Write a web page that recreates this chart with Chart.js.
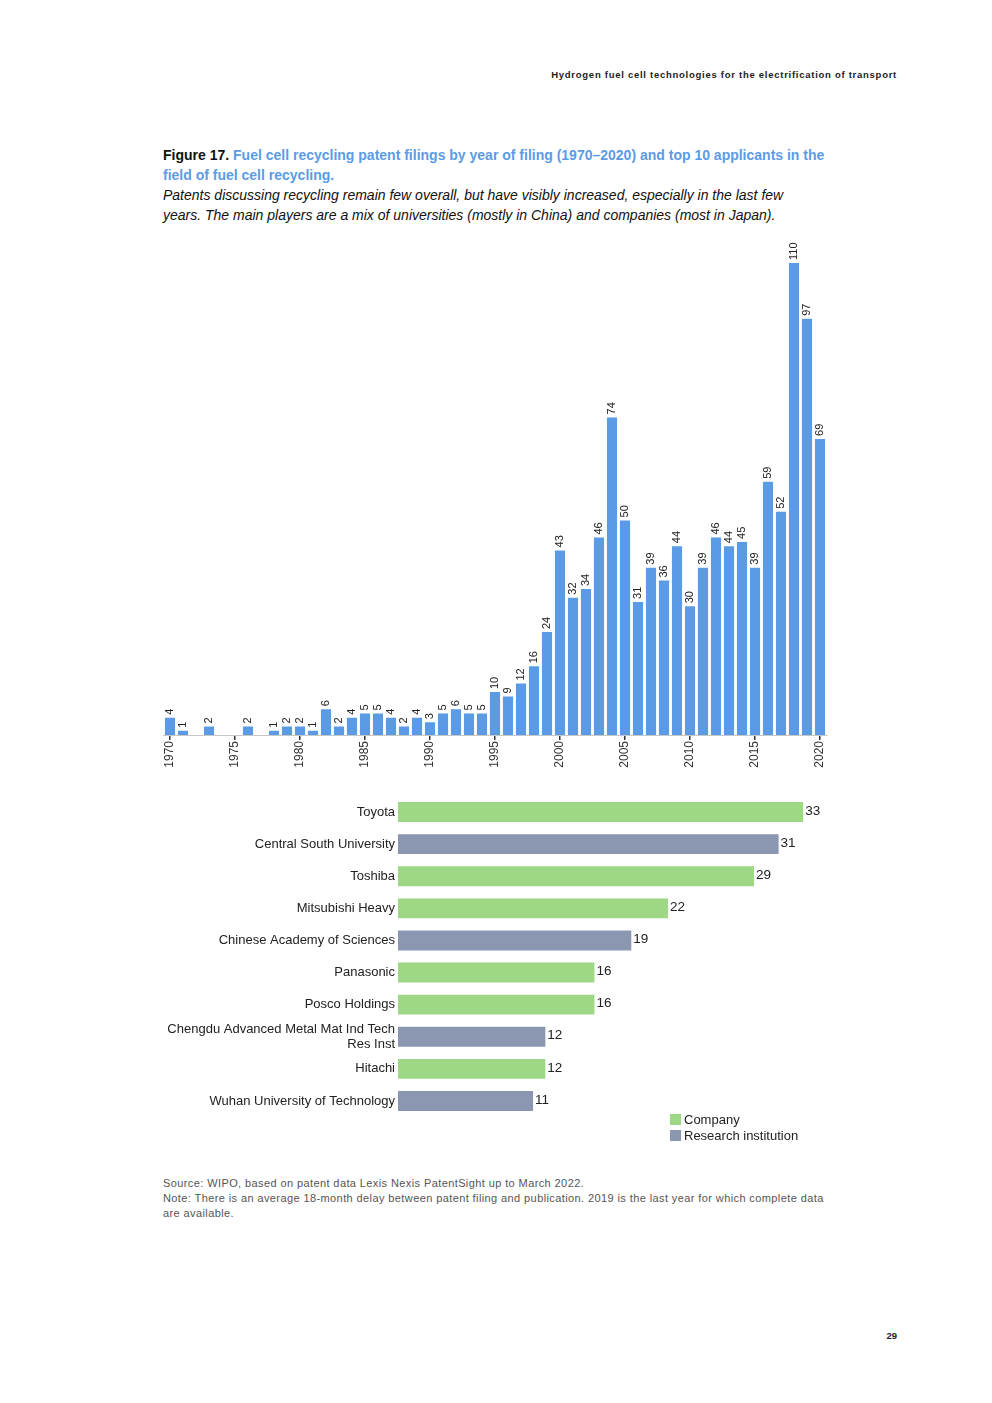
<!DOCTYPE html>
<html>
<head>
<meta charset="utf-8">
<script src="https://cdn.jsdelivr.net/npm/chart.js@4.4.1/dist/chart.umd.min.js"></script>
<style>
  html, body { margin: 0; padding: 0; background: #fff; }
  body { width: 992px; height: 1403px; position: relative; font-family: 'Liberation Sans', Arial, sans-serif; color: #111; }
  .abs { position: absolute; }
  #header { right: 95px; top: 69px; font-size: 9.5px; font-weight: bold; letter-spacing: 0.73px; color: #222; white-space: nowrap; }
  #title { left: 163px; top: 145px; font-size: 14px; font-weight: bold; line-height: 20px; white-space: nowrap; }
  #title .blue { color: #5b9be6; }
  #subtitle { left: 163px; top: 185px; font-size: 14px; font-style: italic; line-height: 20px; white-space: nowrap; color: #111; }
  #source { left: 163px; top: 1176px; font-size: 11px; line-height: 15px; letter-spacing: 0.4px; color: #555; white-space: nowrap; }
  #page { right: 95px; top: 1330px; font-size: 9.5px; font-weight: bold; color: #222; }
  #legend { left: 670px; top: 1112px; font-size: 13px; line-height: 15.5px; color: #222; }
  #legend .sw { display: inline-block; width: 11px; height: 11px; margin-right: 3px; vertical-align: -1px; }
  #c1wrap { left: 160px; top: 230px; width: 670px; height: 550px; }
  #c2wrap { left: 160px; top: 796px; width: 680px; height: 321px; }
</style>
</head>
<body>
<div id="header" class="abs">Hydrogen fuel cell technologies for the electrification of transport</div>
<div id="title" class="abs">Figure 17. <span class="blue">Fuel cell recycling patent filings by year of filing (1970–2020) and top 10 applicants in the<br>field of fuel cell recycling.</span></div>
<div id="subtitle" class="abs">Patents discussing recycling remain few overall, but have visibly increased, especially in the last few<br>years. The main players are a mix of universities (mostly in China) and companies (most in Japan).</div>
<div id="c1wrap" class="abs"><canvas id="c1"></canvas></div>
<div id="c2wrap" class="abs"><canvas id="c2"></canvas></div>
<div id="legend" class="abs">
  <div><span class="sw" style="background:#9ed886"></span>Company</div>
  <div><span class="sw" style="background:#8b96b1"></span>Research institution</div>
</div>
<div id="source" class="abs">Source: WIPO, based on patent data Lexis Nexis PatentSight up to March 2022.<br>Note: There is an average 18-month delay between patent filing and publication. 2019 is the last year for which complete data<br>are available.</div>
<div id="page" class="abs">29</div>

<script>
const years = [1970,1971,1972,1973,1974,1975,1976,1977,1978,1979,1980,1981,1982,1983,1984,1985,1986,1987,1988,1989,1990,1991,1992,1993,1994,1995,1996,1997,1998,1999,2000,2001,2002,2003,2004,2005,2006,2007,2008,2009,2010,2011,2012,2013,2014,2015,2016,2017,2018,2019,2020];
const filings = [4,1,0,2,0,0,2,0,1,2,2,1,6,2,4,5,5,4,2,4,3,5,6,5,5,10,9,12,16,24,43,32,34,46,74,50,31,39,36,44,30,39,46,44,45,39,59,52,110,97,69];

const applicants = ['Toyota','Central South University','Toshiba','Mitsubishi Heavy','Chinese Academy of Sciences','Panasonic','Posco Holdings',['Chengdu Advanced Metal Mat Ind Tech','Res Inst'],'Hitachi','Wuhan University of Technology'];
const applicantCounts = [33,31,29,22,19,16,16,12,12,11];
const applicantTypes = ['Company','Research institution','Company','Company','Research institution','Company','Company','Research institution','Company','Research institution'];

const BLUE = '#5b9be6', GREEN = '#9ed886', GREY = '#8b96b1';
const FONT = "'Liberation Sans', Arial, sans-serif";

const vertLabels = {
  id: 'vertLabels',
  afterDatasetsDraw(chart) {
    const ctx = chart.ctx;
    const meta = chart.getDatasetMeta(0);
    ctx.save();
    ctx.font = '11px ' + FONT;
    ctx.fillStyle = '#222';
    ctx.textAlign = 'left';
    ctx.textBaseline = 'middle';
    meta.data.forEach((bar, i) => {
      const v = filings[i];
      if (!v) return;
      ctx.save();
      ctx.translate(bar.x, bar.y - 3);
      ctx.rotate(-Math.PI / 2);
      ctx.fillText(String(v), 0, 0);
      ctx.restore();
    });
    ctx.restore();
  }
};

new Chart(document.getElementById('c1'), {
  type: 'bar',
  data: {
    labels: years.map(String),
    datasets: [{ data: filings, backgroundColor: BLUE, barPercentage: 0.78, categoryPercentage: 1 }]
  },
  options: {
    responsive: true, maintainAspectRatio: false, animation: false,
    layout: { padding: { top: 33, left: 3.5, right: 3.5, bottom: 0 } },
    plugins: { legend: { display: false }, tooltip: { enabled: false } },
    scales: {
      x: {
        offset: true,
        grid: {
          display: true, offset: false, drawOnChartArea: false, drawTicks: true, tickLength: 5, lineWidth: 1.5,
          color: c => (years[c.index] % 5 === 0 ? '#333' : 'rgba(0,0,0,0)')
        },
        border: { display: true, dash: [4, 3], color: '#c8c8c8' },
        ticks: {
          autoSkip: false, maxRotation: 90, minRotation: 90, padding: 1,
          font: { size: 12, family: FONT }, color: '#333',
          callback: (v, i) => (years[i] % 5 === 0 ? String(years[i]) : '')
        },
        afterFit: s => { s.height = 45; s.paddingLeft = 0; s.paddingRight = 0; }
      },
      y: { display: false, min: 0, max: 110 }
    }
  },
  plugins: [vertLabels]
});

const sideLabels = {
  id: 'sideLabels',
  afterDatasetsDraw(chart) {
    const ctx = chart.ctx;
    const meta = chart.getDatasetMeta(0);
    ctx.save();
    ctx.font = '13.5px ' + FONT;
    ctx.fillStyle = '#222';
    ctx.textAlign = 'left';
    ctx.textBaseline = 'middle';
    meta.data.forEach((bar, i) => {
      ctx.fillText(String(applicantCounts[i]), bar.x + 2, bar.y - 1);
    });
    ctx.restore();
  }
};

new Chart(document.getElementById('c2'), {
  type: 'bar',
  data: {
    labels: applicants,
    datasets: [{
      data: applicantCounts,
      backgroundColor: applicantTypes.map(t => t === 'Company' ? GREEN : GREY),
      barPercentage: 0.62, categoryPercentage: 1
    }]
  },
  options: {
    indexAxis: 'y',
    responsive: true, maintainAspectRatio: false, animation: false,
    layout: { padding: 0 },
    plugins: { legend: { display: false }, tooltip: { enabled: false } },
    scales: {
      x: { display: false, min: 0, max: 36 },
      y: {
        grid: { display: false, drawTicks: false }, border: { display: false },
        ticks: { autoSkip: false, font: { size: 13, family: FONT }, color: '#222', padding: 3 },
        afterFit: s => { s.width = 238; s.paddingTop = 0; s.paddingBottom = 0; }
      }
    }
  },
  plugins: [sideLabels]
});
</script>
</body>
</html>
